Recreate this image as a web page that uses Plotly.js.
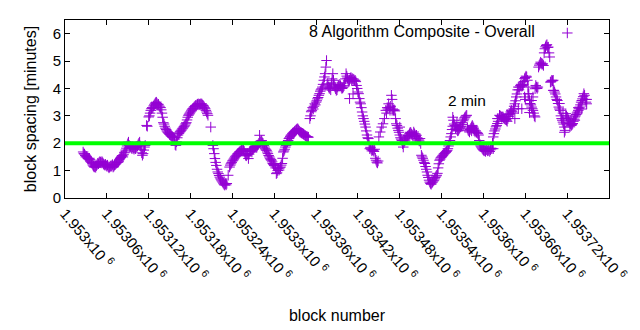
<!DOCTYPE html>
<html><head><meta charset="utf-8">
<script src="https://cdn.plot.ly/plotly-3.0.1.min.js"></script>
<style>html,body{margin:0;padding:0;background:#fff}#chart{width:640px;height:330px}</style>
</head><body><div id="chart"></div>
<script>
// block numbers are given as offsets from this base block
const BLOCK_BASE = 1953000;
// [block offset, block spacing in minutes]
const spacingSamples = [
[26,1.68],[27,1.62],[28,1.60],[29,1.55],[30,1.50],[31,1.52],[32,1.47],[33,1.44],[34,1.42],[35,1.45],[36,1.40],[37,1.35],[38,1.30],[39,1.25],[40,1.20],[41,1.16],[42,1.13],[43,1.15],[44,1.12],[45,1.18],[46,1.22],[47,1.27],[48,1.25],[49,1.30],[50,1.33],[51,1.31],[52,1.28],[53,1.33],[54,1.29],[55,1.25],[56,1.22],[57,1.20],[58,1.23],[59,1.19],[60,1.16],[61,1.20],[62,1.14],[63,1.10],[64,1.13],[65,1.17],[66,1.15],[67,1.18],[68,1.22],
[69,1.13],[70,1.16],[71,1.20],[72,1.22],[73,1.25],[74,1.28],[75,1.30],[76,1.31],[77,1.35],[78,1.40],[79,1.44],[80,1.48],[81,1.52],[82,1.55],[83,1.50],[84,1.58],[85,1.65],[86,1.68],[87,1.75],[88,1.82],[89,1.90],[90,1.98],[91,2.04],[92,1.92],[93,1.86],[94,1.88],[95,1.84],[96,1.80],[97,1.86],[98,1.82],[99,1.78],[100,1.84],[101,1.80],[102,1.85],[103,1.88],[104,1.90],[105,1.95],[106,2.00],[107,2.04],[108,1.90],[109,1.78],[110,1.65],[111,1.56],[112,1.62],[113,1.75],[114,1.86],[115,1.92],
[117,2.65],[118,2.62],[120,2.96],[121,3.00],[122,3.10],[123,3.20],[124,3.26],[125,3.30],[126,3.28],[127,3.36],[128,3.40],[129,3.44],[130,3.48],[131,3.50],[132,3.45],[133,3.40],[134,3.42],[135,3.36],[136,3.32],[137,3.30],[138,3.22],[139,3.10],[140,2.95],[141,2.75],[142,2.70],[143,2.62],[144,2.55],[145,2.50],[146,2.45],[147,2.41],[148,2.38],[149,2.36],[150,2.32],[151,2.30],[152,2.27],[153,2.25],[154,2.23],[155,2.22],[156,2.20],[157,2.15],[158,1.95],[159,1.92],[160,2.05],[161,2.20],[162,2.30],[163,2.35],[164,2.38],[165,2.42],[166,2.45],[167,2.48],[168,2.52],[169,2.55],[170,2.59],[171,2.62],[172,2.66],[173,2.71],[174,2.75],[175,2.85],[176,2.95],[177,3.02],[178,3.06],[179,3.10],[180,3.14],[181,3.18],[182,3.22],[183,3.26],[184,3.28],[185,3.32],[186,3.34],[187,3.38],[188,3.36],[189,3.40],[190,3.42],[191,3.44],[192,3.40],[193,3.42],[194,3.44],[195,3.40],[196,3.44],[197,3.40],[198,3.38],[199,3.35],[200,3.30],[201,3.26],[202,3.20],[203,3.14],[204,3.08],[205,3.02],[209,2.59],
[212,1.92],[213,1.80],[214,1.62],[215,1.44],[216,1.30],[217,1.19],[218,1.05],[219,0.95],[220,0.89],[221,0.82],[222,0.76],[223,0.70],[224,0.66],[225,0.62],[226,0.58],[227,0.54],[228,0.50],[229,0.47],[230,0.52],[231,0.48],[232,0.53],[234,0.83],[236,1.13],[237,1.20],[238,1.25],[239,1.30],[240,1.35],[241,1.38],[242,1.42],[243,1.46],[244,1.50],[245,1.53],[246,1.56],[247,1.60],[248,1.62],[249,1.65],[250,1.68],[251,1.70],[252,1.72],[253,1.75],[254,1.78],[255,1.80],[256,1.76],[257,1.70],[258,1.62],[259,1.56],[260,1.54],[261,1.58],[262,1.62],[263,1.44],[264,1.60],[265,1.70],[266,1.72],[267,1.74],[268,1.68],[269,1.78],[270,1.80],[271,1.83],[272,1.86],[273,1.88],[274,1.90],
[275,1.86],[276,1.92],[277,1.95],[278,2.00],[279,2.29],[280,2.05],[281,2.08],[282,2.10],[283,2.02],[284,1.99],[285,1.92],[286,1.86],[287,1.80],[288,1.76],[289,1.74],[290,1.68],[291,1.62],[292,1.55],[293,1.50],[294,1.45],[295,1.40],[296,1.38],[297,1.32],[298,1.26],[299,1.22],[300,1.19],[301,1.17],[302,1.10],[303,0.89],[304,0.92],[305,1.00],[306,1.07],[307,1.02],[308,1.10],[309,1.13],[310,1.20],[311,1.26],[312,1.45],[313,1.68],[314,1.72],[315,1.78],[316,1.86],[317,1.92],[318,1.98],[319,2.05],[320,2.10],[321,2.17],[322,2.20],[323,2.25],[324,2.29],[325,2.31],[326,2.35],[327,2.38],[328,2.40],[329,2.43],[330,2.45],[331,2.48],[332,2.50],[333,2.53],[334,2.52],[335,2.48],[336,2.44],[337,2.41],[338,2.40],[339,2.38],[340,2.36],[341,2.35],[342,2.33],[343,2.31],[344,2.29],[345,2.27],[346,2.25],[347,2.24],[348,2.23],[349,2.22],
[351,2.90],[352,3.00],[353,3.15],[354,3.20],[355,3.30],[356,3.25],[357,3.35],[358,3.44],[359,3.40],[360,3.50],[361,3.55],[362,3.62],[363,3.67],[364,3.75],[365,3.81],[366,3.90],[367,3.95],[368,3.99],[369,4.05],[370,4.15],[371,4.30],[372,4.42],[373,4.54],[374,4.78],[375,5.02],
[376,4.17],[377,4.10],[378,4.05],[379,4.00],[380,4.05],[381,3.95],[382,4.20],[383,4.35],[384,4.54],[385,4.30],[386,4.15],[387,4.05],[388,3.99],[389,3.93],[390,3.95],[391,4.05],[392,4.11],[393,4.08],[394,4.15],[395,4.10],[396,4.05],[397,4.00],[398,4.02],[399,4.05],[400,4.10],[401,4.20],[402,4.35],[403,4.54],[404,4.45],[405,4.38],[406,4.30],[407,4.25],[408,4.30],[409,4.36],[410,4.40],[411,4.32],[412,4.36],[413,4.30],[414,4.34],[415,4.28],[416,4.30],[417,4.25],[418,4.11],[419,4.00],[420,3.87],[421,3.81],
[422,3.63],[423,3.50],[424,3.44],[425,3.30],[426,3.14],[427,3.00],[428,2.90],[429,2.80],[430,2.70],[431,2.59],[432,2.45],[433,2.30],[434,2.20],[435,2.17],[436,1.95],[437,1.80],[438,1.85],[439,1.78],[440,1.72],[441,1.76],[442,1.74],[443,1.70],[444,1.78],[445,1.45],[446,1.38],[447,1.31],[448,1.28],[449,1.35],
[450,2.23],[452,2.41],[454,2.59],[456,2.71],[458,2.90],[460,3.20],[461,3.10],[462,3.30],[463,3.25],[464,3.44],[465,3.30],[466,3.20],[467,3.35],[468,3.75],[469,3.60],[470,3.25],[471,3.20],[472,3.22],[473,3.18],[474,2.90],[475,2.71],[476,2.65],[477,2.55],[478,2.47],[479,2.40],[480,2.30],[481,2.20],[482,2.15],[483,2.10],[484,1.98],[485,1.86],[486,2.02],[487,2.08],[488,2.12],[489,2.18],[490,2.22],[491,2.25],[492,2.28],[493,2.30],[494,2.35],[495,2.40],[496,2.38],[497,2.33],[498,2.30],[499,2.25],[500,2.41],[501,2.35],[502,2.30],[503,2.25],[504,2.29],[505,2.20],[506,2.17],[507,2.12],[508,2.08],[509,2.17],[510,1.99],
[511,1.56],[512,1.50],[513,1.45],[514,1.38],[515,1.30],[516,1.26],[517,1.15],[518,1.05],[519,0.95],[520,0.83],[521,0.75],[522,0.65],[523,0.58],[524,0.53],[525,0.50],[526,0.55],[527,0.58],[528,0.62],[529,0.65],[530,0.70],[531,0.75],[532,0.80],[533,0.83],[534,0.90],
[535,1.10],[536,1.25],[537,1.38],[538,1.42],[539,1.47],[540,1.50],[541,1.53],[542,1.56],[543,1.60],[544,1.62],[545,1.65],[546,1.67],[547,1.70],[548,1.74],[549,1.80],[550,1.90],[551,2.00],[552,2.10],[553,2.23],[554,2.35],[555,2.50],[556,2.62],[557,2.84],[558,2.70],[559,2.65],[560,2.55],[561,2.60],[562,2.50],[563,2.45],[564,2.47],[565,2.52],[566,2.56],[567,2.60],[568,2.62],[569,2.68],[570,2.75],[571,2.82],[572,2.88],[573,2.93],[574,2.96],[575,3.00],[576,3.02],[577,2.55],[578,2.48],[579,2.45],[580,2.41],[581,2.50],[582,2.55],[583,2.60],[584,2.65],[585,2.60],[586,2.55],[587,2.48],[588,2.41],[589,2.45],[590,2.40],[591,2.38],[592,2.35],[593,2.30],[594,2.10],[595,1.95],[596,1.90],[597,1.86],[598,1.82],[599,1.78],[600,1.75],[601,1.72],[602,1.74],[603,1.70],[604,1.76],[605,1.78],[606,1.72],[607,1.74],[608,1.80],[609,1.70],[610,1.76],[611,1.82],[612,1.80],[613,2.00],[614,2.23],[615,2.35],[616,2.45],[617,2.52],[618,2.60],[619,2.65],[620,2.72],[621,2.80],[622,2.90],[623,3.02],[624,3.00],[625,2.98],[626,2.95],[627,2.96],[628,2.96],[629,2.92],[630,2.90],[631,2.88],[632,2.86],[633,2.84],[634,2.80],[635,2.90],[636,2.98],[637,3.04],[638,3.08],[639,3.14],[640,3.20],[641,3.15],[642,3.10],[643,3.25],[644,3.35],[645,3.44],[646,3.55],[647,3.69],[648,3.80],[649,3.95],[650,4.05],
[651,3.95],[652,4.05],[653,4.11],[654,4.15],[655,4.08],[656,4.11],[657,4.15],[658,4.25],[659,4.36],[660,4.40],[661,4.45],[662,4.42],[663,4.30],[664,4.05],[665,3.80],[666,3.56],[667,3.45],[668,3.40],[669,3.32],[670,3.26],[671,3.20],[672,3.10],[673,3.00],[674,2.96],[675,4.11],[676,4.05],[677,4.00],[678,4.05],[679,4.78],[680,4.85],[681,4.90],[682,4.96],[683,4.92],[684,4.88],[685,4.90],[686,4.84],[687,5.30],[688,5.45],[689,5.52],[690,5.57],[691,5.60],[692,5.50],[693,5.51],[694,5.30],[695,5.15],[696,4.23],[697,4.25],[698,4.30],[699,4.28],[700,4.30],[701,3.93],[702,3.87],[703,3.80],[704,3.69],[705,3.60],[706,3.56],[707,3.45],[708,3.32],[709,3.25],[710,3.20],[711,3.00],[712,2.90],[713,2.84],[714,2.77],[715,2.70],[716,2.59],[717,2.47],[718,3.08],[719,3.00],[720,2.95],[721,2.90],[722,2.85],[723,2.77],[724,2.72],[725,2.70],[726,2.65],[727,2.68],[728,2.72],[729,2.80],[730,2.88],[731,2.96],[732,3.00],[733,3.05],[734,3.10],[735,3.14],[736,3.20],[737,3.26],[738,3.32],[739,3.40],[740,3.50],[741,3.56],[742,3.62],[743,3.70],[744,3.81],[745,3.75],[746,3.60],[747,3.50],[748,3.44],
// scattered outliers
[645,2.90],[650,3.26],[655,3.26],[659,3.69],[664,3.81],[666,3.12],[669,3.56],[671,3.69],[674,3.99],[709,3.45],[714,3.10],[724,2.60],[731,2.84],[741,3.25],[748,3.60],[408,3.63],[413,3.80],[469,3.20],[480,2.59],[556,2.95],[562,2.75],[583,2.45],[614,1.80],[620,2.90],[634,3.05],[660,3.60],[700,3.93],[716,2.40],[736,3.30]
];
const targetMinutes = 2;
const tickBlocks = [1953000,1953060,1953120,1953180,1953240,1953300,1953360,1953420,1953480,1953540,1953600,1953660,1953720,1953780];
const tickMantissas = ["1.953","1.95306","1.95312","1.95318","1.95324","1.9533","1.95336","1.95342","1.95348","1.95354","1.9536","1.95366","1.95372","1.95378"];
const yTicks = [0,1,2,3,4,5,6];
const seriesName = "8 Algorithm Composite - Overall";
const targetLabel = "2 min";

const xs = spacingSamples.map(p => BLOCK_BASE + p[0]);
const ys = spacingSamples.map(p => p[1]);
const tickText = tickMantissas.map(m => m + "x10 <sup>6</sup>");

const FONT = "Liberation Sans, Arial, sans-serif";
const purple = "#9400d3";

const traces = [{
  type: "scatter", mode: "markers", x: xs, y: ys, name: "",
  marker: {symbol: "cross-thin", size: 7.5, color: purple, line: {color: purple, width: 1}},
  showlegend: true, hoverinfo: "skip"
}];

const layout = {
  width: 640, height: 330,
  margin: {l: 65, r: 31, t: 20, b: 132},
  paper_bgcolor: "#fff", plot_bgcolor: "#fff",
  font: {family: FONT, size: 15, color: "#000"},
  xaxis: {
    range: [tickBlocks[0], tickBlocks[tickBlocks.length-1]],
    tickmode: "array", tickvals: tickBlocks, ticktext: tickText,
    tickangle: 50, ticks: "inside", ticklen: 5, tickcolor: "#000",
    showline: true, linecolor: "#000", linewidth: 1, mirror: "ticks",
    showgrid: false, zeroline: false,
    tickfont: {family: FONT, size: 15},
    title: {text: "block number", font: {family: FONT, size: 16}, standoff: 26}
  },
  yaxis: {
    range: [0, 6.5], tickmode: "array", tickvals: yTicks,
    ticks: "inside", ticklen: 5, tickcolor: "#000",
    showline: true, linecolor: "#000", linewidth: 1, mirror: "ticks",
    showgrid: false, zeroline: false,
    tickfont: {family: FONT, size: 15},
    title: {text: "block spacing [minutes]", font: {family: FONT, size: 16}, standoff: 12}
  },
  showlegend: true,
  legend: {
    x: 0.9706, xanchor: "right", y: 1.022, yanchor: "top",
    bgcolor: "rgba(0,0,0,0)", borderwidth: 0,
    font: {family: FONT, size: 16},
    title: {text: seriesName + "\u00a0", side: "left", font: {family: FONT, size: 16}},
    itemwidth: 30
  },
  shapes: [{type: "line", xref: "paper", x0: 0, x1: 1, yref: "y", y0: targetMinutes, y1: targetMinutes,
            line: {color: "#00ff00", width: 4}, layer: "above"}],
  annotations: [{xref: "paper", yref: "paper", x: 0.777, y: 0.545, xanchor: "right", yanchor: "middle",
                 text: targetLabel, showarrow: false, font: {family: FONT, size: 15.5}}]
};

Plotly.newPlot("chart", traces, layout, {staticPlot: true, displayModeBar: false});
</script>
</body></html>
